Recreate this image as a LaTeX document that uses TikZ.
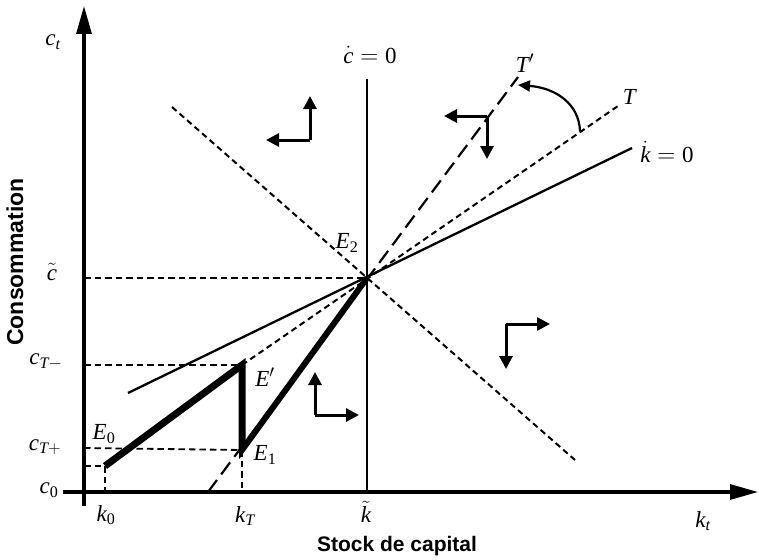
\documentclass[tikz,border=0pt]{standalone}
\usepackage{amsmath}
\usepackage{fontspec}
\setmainfont{Liberation Serif}
\newfontfamily\labsans{Liberation Sans}
\newcommand\itx[1]{\textit{#1}}
\usetikzlibrary{arrows.meta}
\begin{document}
\begin{tikzpicture}[x=1pt,y=-1pt,
  axisline/.style={line width=3.2pt,-{Triangle[length=28pt,width=15pt]}},
  solidline/.style={line width=2.3pt},
  shortdash/.style={line width=2pt,dash pattern=on 6pt off 4pt},
  longdash/.style={line width=2.2pt,dash pattern=on 15pt off 7pt},
  guide/.style={line width=1.8pt,dash pattern=on 6.5pt off 4pt},
  pathline/.style={line width=7pt,line join=miter},
  dirarrow/.style={line width=3pt,-{Triangle[length=13pt,width=13pt]}},
  lab/.style={inner sep=0pt,font=\fontsize{23}{25}\selectfont},
  axtitle/.style={inner sep=0pt,font=\labsans\bfseries\fontsize{21}{24}\selectfont}]
\useasboundingbox (0,0) rectangle (759,559);
% key points
\coordinate (ytop) at (84,6);
\coordinate (ybot) at (84,506);
\coordinate (xl) at (63,492);
\coordinate (xr) at (758,492);
\coordinate (E2) at (367,278);
\coordinate (E0) at (105,466);
\coordinate (Ep) at (242,365);
\coordinate (E1) at (242,450);
\coordinate (k0) at (105,492);
\coordinate (kT) at (242,492);
\coordinate (yc) at (84,278);
\coordinate (ycm) at (84,365);
\coordinate (ycp) at (84,448);
\coordinate (yc0) at (84,466);
\coordinate (kdA) at (128,393);
\coordinate (kdB) at (632,148);
\coordinate (cdA) at (367,79);
\coordinate (cdB) at (367,492);
\coordinate (sA) at (172,107);
\coordinate (sB) at (575,460);
\coordinate (TB) at (618,106);
\coordinate (TpA) at (208,492);
\coordinate (TpB) at (518,77);
\coordinate (arcA) at (580,131);
\coordinate (arcB) at (518,85);
% axes
\draw[axisline] (ybot) -- (ytop);
\draw[axisline] (xl) -- (xr);
% loci
\draw[solidline] (cdA) -- (cdB);
\draw[solidline] (kdA) -- (kdB);
\draw[shortdash] (sA) -- (sB);
\draw[shortdash] (Ep) -- (TB);
\draw[longdash] (TpA) -- (TpB);
% guides
\draw[guide] (yc) -- (E2);
\draw[guide] (ycm) -- (Ep);
\draw[guide] (ycp) -- (E1);
\draw[guide] (yc0) -- (E0);
\draw[guide] (E0) -- (k0);
\draw[guide] (E1) -- (kT);
% trajectory
\draw[pathline] (E0) -- (Ep) -- (E1);
\draw[line width=6pt,line join=miter] (242,430) -- (E1) -- (E2);
% rotation arrow
\draw[line width=2.2pt,-{Triangle[length=12pt,width=11pt]}] (arcA) .. controls (579,104) and (556,88) .. (arcB);
% direction arrows
\coordinate (d1) at (310,140);
\draw[dirarrow] (d1) -- (310,96);
\draw[dirarrow] (d1) -- (266,140);
\coordinate (d2) at (487,116);
\draw[dirarrow] (d2) -- (444,116);
\draw[dirarrow] (d2) -- (487,159);
\coordinate (d3) at (506,324);
\draw[dirarrow] (d3) -- (550,324);
\draw[dirarrow] (d3) -- (506,369);
\coordinate (d4) at (315,415);
\draw[dirarrow] (d4) -- (315,372);
\draw[dirarrow] (d4) -- (359,415);
% labels
\node[lab] (lct) at (53,42) {$\itx{c}_{\itx{t}}$};
\node[lab] (lkt) at (703,521) {$\itx{k}_{\itx{t}}$};
\node[lab] (lcd) at (370,55) {$\dot{\itx{c}}=\text{0}$};
\node[lab] (lkd) at (667,152) {$\dot{\itx{k}}=\text{0}$};
\node[lab] (lT) at (630,97) {\itx{T}};
\node[lab] (lTp) at (525,63) {$\itx{T}'$};
\node[lab] (lE2) at (347,243) {$\itx{E}_{\text{2}}$};
\node[lab] (lEp) at (265,377) {$\itx{E}'$};
\node[lab] (lE1) at (265,455) {$\itx{E}_{\text{1}}$};
\node[lab] (lE0) at (104,434) {$\itx{E}_{\text{0}}$};
\node[lab] (lctil) at (52,272) {$\tilde{\itx{c}}$};
\node[lab] (lcm) at (46,362) {$\itx{c}_{\itx{T}-}$};
\node[lab] (lcp) at (45,447) {$\itx{c}_{\itx{T}+}$};
\node[lab] (lc0) at (49,490) {$\itx{c}_{\text{0}}$};
\node[lab] (lk0) at (106,515) {$\itx{k}_{\text{0}}$};
\node[lab] (lkT) at (245,516) {$\itx{k}_{\itx{T}}$};
\node[lab] (lktil) at (366,512) {$\tilde{\itx{k}}$};
\node[axtitle] (xt) at (397,546) {Stock de capital};
\node[axtitle,rotate=90,font=\labsans\bfseries\fontsize{23}{25}\selectfont] (yt) at (15,262) {Consommation};
\end{tikzpicture}
\end{document}
